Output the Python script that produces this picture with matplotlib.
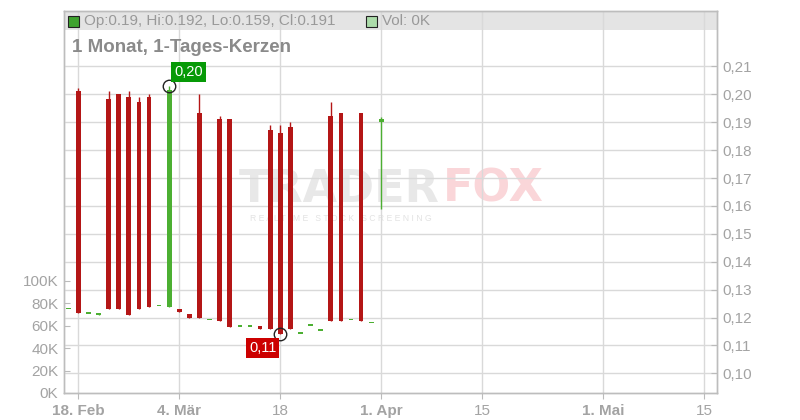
import numpy as np
import pandas as pd
import matplotlib
matplotlib.use("Agg")
import matplotlib.pyplot as plt
from matplotlib.patches import Rectangle

plt.rcParams['font.family'] = ['Liberation Sans', 'DejaVu Sans']

# daily candles (weekdays), 17. Feb .. 1. Apr
dates = pd.bdate_range("2025-02-17", "2025-04-01")
opens = [0.1229, 0.2012, 0.1213, 0.1209, 0.1983, 0.2001, 0.1990, 0.1972,
         0.1990, 0.1240, 0.1239, 0.1232, 0.1213, 0.1934, 0.1190, 0.1911,
         0.1911, 0.1167, 0.1167, 0.1169, 0.1872, 0.1861, 0.1883, 0.1141,
         0.1169, 0.1152, 0.1922, 0.1934, 0.1190, 0.1934, 0.1179, 0.1900]
highs = [0.1229, 0.2023, 0.1213, 0.1217, 0.2012, 0.2001, 0.2012, 0.1990,
         0.2001, 0.1240, 0.2030, 0.1232, 0.1213, 0.2001, 0.1190, 0.1922,
         0.1911, 0.1167, 0.1167, 0.1169, 0.1890, 0.1890, 0.1901, 0.1141,
         0.1169, 0.1152, 0.1972, 0.1934, 0.1190, 0.1934, 0.1179, 0.1920]
lows = [0.1229, 0.1217, 0.1213, 0.1209, 0.1229, 0.1229, 0.1210, 0.1229,
        0.1239, 0.1240, 0.1239, 0.1219, 0.1200, 0.1200, 0.1190, 0.1189,
        0.1167, 0.1167, 0.1167, 0.1159, 0.1159, 0.1140, 0.1159, 0.1141,
        0.1169, 0.1152, 0.1189, 0.1189, 0.1190, 0.1189, 0.1179, 0.1590]
closes = [0.1229, 0.1217, 0.1213, 0.1217, 0.1229, 0.1229, 0.1210, 0.1229,
          0.1239, 0.1240, 0.2014, 0.1219, 0.1200, 0.1200, 0.1190, 0.1189,
          0.1167, 0.1167, 0.1167, 0.1159, 0.1159, 0.1140, 0.1159, 0.1141,
          0.1169, 0.1152, 0.1189, 0.1189, 0.1190, 0.1189, 0.1179, 0.1910]
volumes = [0] * len(dates)

price_ticks = [0.10, 0.11, 0.12, 0.13, 0.14, 0.15, 0.16, 0.17, 0.18, 0.19, 0.20, 0.21]
vol_ticks = [0, 20000, 40000, 60000, 80000, 100000]
xtick_dates = ["2025-02-18", "2025-03-04", "2025-03-18", "2025-04-01",
               "2025-04-15", "2025-05-01", "2025-05-15"]
xtick_labels = ["18. Feb", "4. Mär", "18", "1. Apr", "15", "1. Mai", "15"]
xtick_bold = [True, True, False, True, False, True, False]

RED = "#b41616"
GREEN = "#4caf32"
GRID = "#d9d9d9"
TXT = "#a3a3a3"

base = "2025-02-18"
x = np.busday_count(base, dates.values.astype("datetime64[D]"))
xt = np.busday_count(base, np.array(xtick_dates, dtype="datetime64[D]"))
o = np.array(opens); h = np.array(highs); l = np.array(lows); c = np.array(closes)

fig = plt.figure(figsize=(8, 4.2), dpi=100)
axv = fig.add_axes([64 / 800, 27 / 420, 653 / 800, 382 / 420])
ax = axv.twinx()

# header band
axv.add_patch(Rectangle((0, 1 - 19 / 382), 1, 19 / 382, transform=axv.transAxes,
                        facecolor="#e4e4e4", edgecolor="none", zorder=0.2))

# watermark
axv.text(0.268, 0.533, "TRADER", transform=axv.transAxes, fontsize=32, fontweight="bold",
         family="DejaVu Sans", color="#e8e8e8", ha="left", va="center", zorder=0.3)
axv.text(0.580, 0.533, "FOX", transform=axv.transAxes, fontsize=32, fontweight="bold",
         family="DejaVu Sans", color="#fad6d9", ha="left", va="center", zorder=0.3)
axv.text(0.285, 0.456, "R E A L T I M E   S T O C K   S C R E E N I N G", transform=axv.transAxes,
         fontsize=6.2, color="#e3e3e3", ha="left", va="center", zorder=0.3)

axv.bar(x, volumes, width=0.46, color="#a8d8a0", zorder=1)
axv.set_ylim(0, 341000)
axv.set_yticks(vol_ticks)
axv.set_yticklabels(["%dK" % (v // 1000) for v in vol_ticks])
axv.set_xlim(-1.416, 63.24)
axv.set_xticks(xt)
axv.set_xticklabels(xtick_labels)
for lab, b in zip(axv.get_xticklabels(), xtick_bold):
    lab.set_fontweight("bold" if b else "normal")
axv.set_axisbelow(True)
axv.grid(axis="x", color=GRID, lw=1, zorder=0.5)
axv.tick_params(axis="y", direction="in", length=4, color="#bbbbbb", labelsize=11,
                labelcolor=TXT, pad=4)
axv.tick_params(axis="x", direction="out", length=4, color="#bbbbbb", labelsize=11,
                labelcolor=TXT, pad=4)

# candles
for xi, oi, hi, li, ci in zip(x, o, h, l, c):
    col = GREEN if ci >= oi else RED
    if hi > li:
        ax.vlines(xi, li, hi, color=col, lw=1, zorder=3)
    bot = min(oi, ci)
    hgt = max(abs(ci - oi), 0.0006)
    ax.bar(xi, hgt, bottom=bot, width=0.46, color=col, zorder=3)

ax.set_ylim(0.09294, 0.22986)
ax.set_yticks(price_ticks)
ax.set_yticklabels([("%.2f" % p).replace(".", ",") for p in price_ticks])
ax.set_axisbelow(True)
ax.grid(axis="y", color=GRID, lw=1, zorder=0.5)
ax.tick_params(axis="y", direction="in", length=4, color="#bbbbbb", labelsize=11,
               labelcolor=TXT, pad=4)

for a in (ax, axv):
    for s in a.spines.values():
        s.set_color("#bdbdbd")
        s.set_linewidth(1)

# high / low markers
ih = int(np.argmax(h)); il = int(np.argmin(l))
ax.plot(x[ih], h[ih], "o", ms=9, mfc="none", mec="#222222", mew=1, zorder=5)
ax.plot(x[il], l[il], "o", ms=9, mfc="none", mec="#222222", mew=1, zorder=5)
ax.annotate(("%.2f" % h[ih]).replace(".", ","), (x[ih], h[ih]), xytext=(5, 7),
            textcoords="offset pixels", ha="left", va="bottom", fontsize=10.5, color="white",
            bbox=dict(boxstyle="square,pad=0.2", fc="#079a07", ec="none"), zorder=6)
ax.annotate(("%.2f" % l[il]).replace(".", ","), (x[il], l[il]), xytext=(-4, -7),
            textcoords="offset pixels", ha="right", va="top", fontsize=10.5, color="white",
            bbox=dict(boxstyle="square,pad=0.2", fc="#cc0000", ec="none"), zorder=6)

# header legend
fig.patches.append(Rectangle((68 / 800, 1 - 27 / 420), 11 / 800, 11 / 420, transform=fig.transFigure,
                             facecolor="#3fa32f", edgecolor="#222222", lw=0.8))
fig.text(84 / 800, 1 - 21 / 420, "Op:%.2f, Hi:%.3f, Lo:%.3f, Cl:%.3f" % (o[-1], h[-1], l[-1], c[-1]),
         fontsize=11, color="#999999", va="center", ha="left")
fig.patches.append(Rectangle((366 / 800, 1 - 27 / 420), 11 / 800, 11 / 420, transform=fig.transFigure,
                             facecolor="#acdcaa", edgecolor="#222222", lw=0.8))
fig.text(382 / 800, 1 - 21 / 420, "Vol: %dK" % (volumes[-1] // 1000), fontsize=11,
         color="#999999", va="center", ha="left")
fig.text(72 / 800, 1 - 47 / 420, "1 Monat, 1-Tages-Kerzen", fontsize=13.5, fontweight="bold",
         color="#8a8a8a", va="center", ha="left")

fig.savefig("out.png", dpi=100)
